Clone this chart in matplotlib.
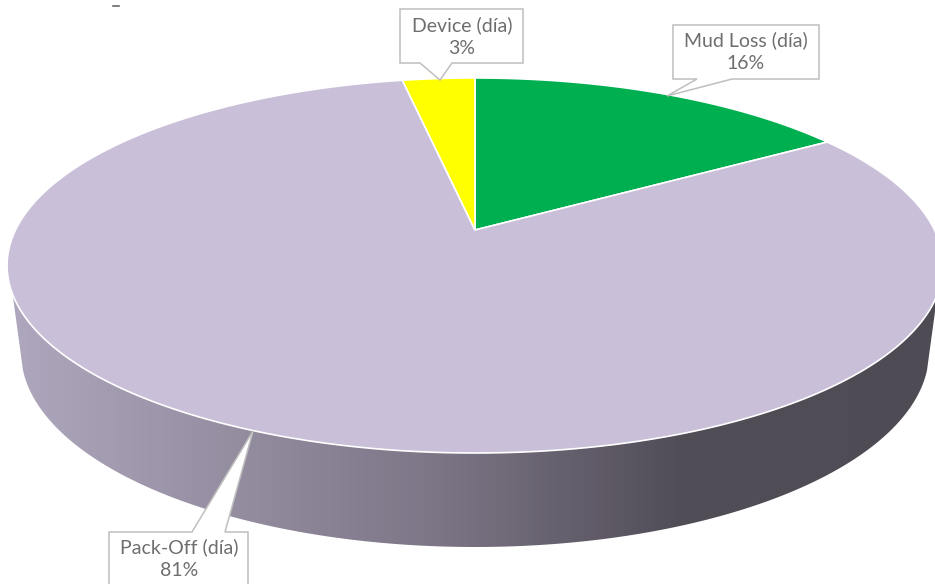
"""Perspective pie chart of lost days by cause, drawn by hand with polygons"""

import matplotlib
matplotlib.use('Agg')
import matplotlib.pyplot as plt
import numpy as np
from matplotlib.colors import LinearSegmentedColormap
from matplotlib.patches import Polygon

# Chart data, clockwise from 12 o'clock
categories = ['Mud Loss (día)', 'Pack-Off (día)', 'Device (día)']
values = [16, 81, 3]
slice_colors = ['#00B050', '#C9BFD8', '#FFFF00']

# Callout boxes: x0, x1, y0, y1, leader base x0, x1, tip x, y
callouts = {
    'Mud Loss (día)': (673, 819, 25, 79, 697, 732, 667, 96),
    'Pack-Off (día)': (109, 248, 532, 592, 192, 225, 253, 431),
    'Device (día)': (400, 523, 9, 63, 420, 452, 440, 80),
}
text_centers = {
    'Mud Loss (día)': (746, 52),
    'Pack-Off (día)': (179, 559),
    'Device (día)': (462, 37),
}

# Perspective of the pie top, in image pixels
cx, cy = 475, 230
k = 0.1893
A, B = 459.5, 180.8


def project(angle):
    """Map a clockwise angle from the top of the unit circle to image pixels"""
    x, y = np.sin(angle), np.cos(angle)
    w = 1 + k * y
    return cx + A * x / w, cy - B * y / w


fig = plt.figure(figsize=(9.35, 5.84), dpi=100)
ax = fig.add_axes([0, 0, 1, 1])
ax.set_xlim(0, 935)
ax.set_ylim(584, 0)
ax.axis('off')

# Stray mark at the top of the picture
ax.plot([113, 119], [6, 6], color='#6A6A6A', linewidth=1.2, zorder=1)

# Side wall: lower half of the top rim joined to a smaller ellipse below it
t = np.linspace(0, 2 * np.pi, 721)
rim_x, rim_y = project(t)
low = rim_y >= 293
order = np.argsort(rim_x[low])
rim_lo_x, rim_lo_y = rim_x[low][order], rim_y[low][order]
u = np.linspace(np.pi * 0.97, 0.03 * np.pi, 300)
wall_x = 475 + 454 * np.cos(u)
wall_y = 352 + 195 * np.sin(u)
outline = np.column_stack([np.r_[rim_lo_x, wall_x[::-1]], np.r_[rim_lo_y, wall_y[::-1]]])
wall_cmap = LinearSegmentedColormap.from_list(
    'wall', [(0, '#AFA7BD'), (0.25, '#948C9F'), (0.45, '#7E7788'), (0.72, '#524E58'), (1, '#4F4B55')])
grad = ax.imshow(np.linspace(0, 1, 512)[None, :], extent=[10, 935, 584, 0], cmap=wall_cmap,
                 aspect='auto', zorder=1)
clip = Polygon(outline, closed=True, transform=ax.transData, fc='none', ec='none')
ax.add_patch(clip)
grad.set_clip_path(clip)

# Slices from the values
start = 0.0
total = sum(values)
for value, color in zip(values, slice_colors):
    stop = start + value / total * 2 * np.pi
    arc = np.linspace(start, stop, 300)
    px, py = project(arc)
    ax.fill(np.r_[cx, px], np.r_[cy, py], facecolor=color, edgecolor='white', linewidth=1.2, zorder=2)
    start = stop

# Callouts
for name, value in zip(categories, values):
    x0, x1, y0, y1, b0, b1, tx, ty = callouts[name]
    if ty > y1:
        pts = [(x0, y0), (x1, y0), (x1, y1), (b1, y1), (tx, ty), (b0, y1), (x0, y1)]
    else:
        pts = [(x0, y0), (b0, y0), (tx, ty), (b1, y0), (x1, y0), (x1, y1), (x0, y1)]
    ax.add_patch(Polygon(pts, closed=True, facecolor='white', edgecolor='#BFBFBF', linewidth=1.1, zorder=3))
    ax.text(*text_centers[name], f'{name}\n{value}%', ha='center', va='center', family='Lato',
            fontsize=14, color='#6E6E6E', linespacing=1.42, zorder=4)

fig.savefig('out.png', dpi=100)
